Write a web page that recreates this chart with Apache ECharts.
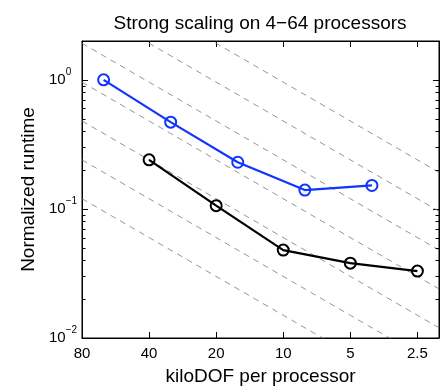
<!DOCTYPE html>
<html>
<head>
<meta charset="utf-8">
<script src="https://cdn.jsdelivr.net/npm/echarts@6/dist/echarts.min.js"></script>
<style>
  html, body { margin: 0; padding: 0; background: #fff; }
  #chart { width: 441px; height: 391px; }
</style>
</head>
<body>
<div id="chart"></div>
<script>
// measured runs (kiloDOF per processor vs normalized runtime)
const kdofBlue = [64, 32, 16, 8, 4];
const runtimeBlue = [1.0, 0.47, 0.23, 0.14, 0.152];
const kdofBlack = [40, 20, 10, 5, 2.5];
const runtimeBlack = [0.24, 0.106, 0.048, 0.038, 0.033];

// ideal strong scaling guides: runtime at 40 kiloDOF, each line runtime ~ kDOF
const idealAt40 = [0.06, 0.12, 0.24, 0.48, 0.96, 1.92, 3.84];

const xTicks = [80, 40, 20, 10, 5, 2.5];
const yMinorTicks = [0.02, 0.03, 0.04, 0.05, 0.06, 0.07, 0.08, 0.09,
                     0.2, 0.3, 0.4, 0.5, 0.6, 0.7, 0.8, 0.9];

const X_MIN = 2, X_MAX = 80, Y_MIN = 0.01, Y_MAX = 2;
// log2 axis in units of 1.25 kDOF so that ticks land on 2.5*2^k
const U = 1.25;
const toU = x => x / U;

const BLUE = '#0f35ff';
const FONT = 'Liberation Sans';

const chart = echarts.init(document.getElementById('chart'));

const xAxisBase = {
  type: 'log',
  logBase: 2,
  min: toU(X_MIN),
  max: toU(X_MAX),
  inverse: true,
  splitLine: { show: false },
  axisLine: { show: true, lineStyle: { color: '#000', width: 1 } },
  axisTick: { show: true, inside: true, length: 6, lineStyle: { color: '#000', width: 1 } }
};
const yAxisBase = {
  type: 'log',
  logBase: 10,
  min: Y_MIN,
  max: Y_MAX,
  splitLine: { show: false },
  axisLine: { show: true, lineStyle: { color: '#000', width: 1 } },
  axisTick: { show: true, inside: true, length: 6, lineStyle: { color: '#000', width: 1 } }
};

const idealSeries = idealAt40.map(a => ({
  type: 'line',
  silent: true,
  symbol: 'none',
  clip: true,
  z: 1,
  lineStyle: { color: '#7a7a7a', width: 0.8, type: [6, 5] },
  data: [X_MAX, X_MIN].map(x => [toU(x), a * x / 40])
}));

const dataSeries = (xs, ys, color) => ({
  type: 'line',
  symbol: 'circle',
  symbolSize: 11,
  z: 3,
  lineStyle: { color: color, width: 2.2 },
  itemStyle: { color: 'none', borderColor: color, borderWidth: 2 },
  data: xs.map((x, i) => [toU(x), ys[i]])
});

const minorTickSeries = {
  type: 'custom',
  silent: true,
  z: 4,
  data: yMinorTicks.map(v => [toU(X_MIN), v]),
  renderItem: (params, api) => {
    const cs = params.coordSys;
    const y = Math.round(api.coord([api.value(0), api.value(1)])[1]) + 0.5;
    const style = { stroke: '#000', lineWidth: 1 };
    return {
      type: 'group',
      children: [
        { type: 'line', shape: { x1: cs.x, y1: y, x2: cs.x + 3.5, y2: y }, style },
        { type: 'line', shape: { x1: cs.x + cs.width - 3.5, y1: y, x2: cs.x + cs.width, y2: y }, style }
      ]
    };
  }
};

const option = {
  backgroundColor: '#fff',
  animation: false,
  textStyle: { fontFamily: FONT, color: '#000' },
  title: {
    text: 'Strong scaling on 4\u221264 processors',
    left: 255,
    top: 9,
    textAlign: 'center',
    textStyle: { fontFamily: FONT, fontSize: 19, fontWeight: 'normal', color: '#000' }
  },
  grid: {
    left: 82, right: 2, top: 41, bottom: 41,
    show: true, borderColor: '#000', borderWidth: 1
  },
  xAxis: [
    Object.assign({}, xAxisBase, {
      position: 'bottom',
      name: 'kiloDOF per processor',
      nameLocation: 'middle',
      nameGap: 29,
      nameTextStyle: { fontFamily: FONT, fontSize: 19, color: '#000' },
      axisLabel: {
        show: true,
        margin: 8,
        fontFamily: FONT,
        fontSize: 15,
        color: '#000',
        showMinLabel: false,
        formatter: v => {
          const x = +(v * U).toFixed(2);
          return xTicks.includes(x) ? String(x) : '';
        }
      }
    }),
    Object.assign({}, xAxisBase, { position: 'top', axisLabel: { show: false } })
  ],
  yAxis: [
    Object.assign({}, yAxisBase, {
      position: 'left',
      name: 'Normalized runtime',
      nameLocation: 'middle',
      nameGap: 37,
      nameTextStyle: { fontFamily: FONT, fontSize: 19, color: '#000' },
      axisLabel: {
        show: true,
        margin: 33,
        align: 'left',
        showMaxLabel: false,
        formatter: v => {
          const e = Math.round(Math.log10(v));
          if (Math.abs(Math.log10(v) - e) > 1e-6) return '';
          return '{b|10}{e|' + String(e).replace('-', '\u2212') + '}';
        },
        rich: {
          b: { fontFamily: FONT, fontSize: 15, color: '#000' },
          e: { fontFamily: FONT, fontSize: 10, color: '#000', padding: [0, 0, 16, 0] }
        }
      }
    }),
    Object.assign({}, yAxisBase, { position: 'right', axisLabel: { show: false } })
  ],
  series: [
    ...idealSeries,
    dataSeries(kdofBlue, runtimeBlue, BLUE),
    dataSeries(kdofBlack, runtimeBlack, '#000'),
    minorTickSeries
  ]
};

chart.setOption(option);
</script>
</body>
</html>
